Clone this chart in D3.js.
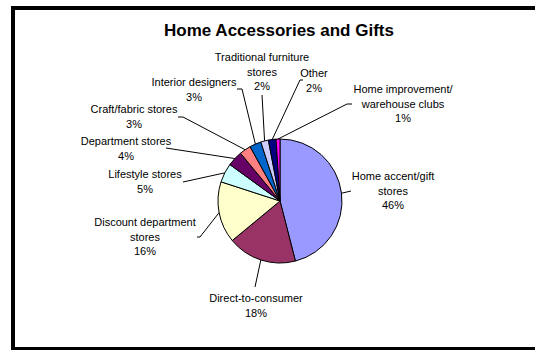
<!DOCTYPE html>
<html>
<head>
<meta charset="utf-8">
<script src="https://cdn.jsdelivr.net/npm/d3@7"></script>
<style>
	body { margin: 0; background: #fff; }
	svg text { font-family: "Liberation Sans", Arial, sans-serif; fill: #000; }
</style>
</head>
<body>
<svg id="chart" width="535" height="350"></svg>
<script>
// chart values
var categories = ["Home accent/gift\nstores", "Direct-to-consumer", "Discount department\nstores",
	"Lifestyle stores", "Department stores", "Craft/fabric stores", "Interior designers",
	"Traditional furniture\nstores", "Other", "Home improvement/\nwarehouse clubs"];
var shares = [46, 18, 16, 5, 4, 3, 3, 2, 2, 1];
var colors = ["#9999ff", "#993366", "#ffffcc", "#ccffff", "#660066", "#ff8080", "#0066cc", "#ccccff", "#000080", "#ff00ff"];

// label placement (manual, like the original)
var labelPos = [[393, 176], [256, 298], [145, 222], [145, 174], [126, 141], [134, 109], [194, 82], [262, 57], [314, 73], [403, 89]];
var leaderEnds = [
	[[351, 191]],
	[[255, 287]],
	[[200, 237], [197, 237]],
	[[183, 182]],
	[[166, 148]],
	[[183, 117], [178, 117]],
	[[242, 89], [237, 89]],
	[[262, 95]],
	[[300, 80], [303, 80]],
	[[347, 104], [352, 104]]
];

var svg = d3.select("#chart");
var cx = 280, cy = 201, radius = 62;
var lineHeight = 14.7;

// frame
svg.append("rect")
	.attr("x", 13).attr("y", 8)
	.attr("width", 535).attr("height", 341)
	.attr("fill", "none")
	.attr("stroke", "#000")
	.attr("stroke-width", 4);

// title
svg.append("text")
	.attr("x", 279).attr("y", 36)
	.attr("text-anchor", "middle")
	.attr("font-size", "17px")
	.attr("font-weight", "bold")
	.text("Home Accessories and Gifts");

var pie = d3.pie().sort(null).value(function(d){ return d; });
var arcs = pie(shares);
var arc = d3.arc().innerRadius(0).outerRadius(radius);

var g = svg.append("g").attr("transform", "translate(" + cx + "," + cy + ")");
g.selectAll("path").data(arcs)
	.enter()
	.append("path")
	.attr("d", arc)
	.attr("fill", function(d, i){ return colors[i]; })
	.attr("stroke", "#000")
	.attr("stroke-width", 1);

// leader lines from slice edge to the label
var line = d3.line();
svg.selectAll(".leader").data(arcs)
	.enter()
	.append("path")
	.attr("class", "leader")
	.attr("d", function(d, i){
		var a = (d.startAngle + d.endAngle) / 2;
		var start = [cx + radius * Math.sin(a), cy - radius * Math.cos(a)];
		return line([start].concat(leaderEnds[i]));
	})
	.attr("fill", "none")
	.attr("stroke", "#000")
	.attr("stroke-width", 1);

// labels
svg.selectAll(".label").data(arcs)
	.enter()
	.append("text")
	.attr("class", "label")
	.attr("text-anchor", "middle")
	.attr("font-size", "11px")
	.each(function(d, i){
		var lines = categories[i].split("\n").concat([shares[i] + "%"]);
		var t = d3.select(this);
		lines.forEach(function(s, k){
			t.append("tspan")
				.attr("x", labelPos[i][0])
				.attr("y", labelPos[i][1] + k * lineHeight)
				.attr("dy", "0.35em")
				.text(s);
		});
	});
</script>
</body>
</html>
